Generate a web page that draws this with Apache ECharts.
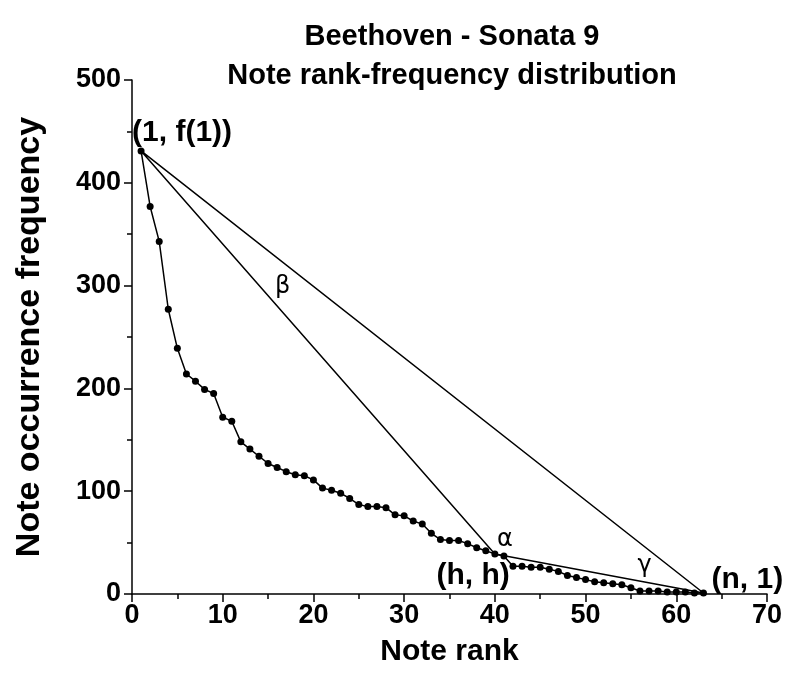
<!DOCTYPE html>
<html>
<head>
<meta charset="utf-8">
<script src="https://cdn.jsdelivr.net/npm/echarts@6/dist/echarts.min.js"></script>
<style>
  html, body { margin: 0; padding: 0; background: #fff; }
  #chart { width: 785px; height: 686px; }
</style>
</head>
<body>
<div id="chart"></div>
<script>
// Note ranks 1..n and how often each note occurs
const ranks = [
  1, 2, 3, 4, 5, 6, 7, 8, 9, 10,
  11, 12, 13, 14, 15, 16, 17, 18, 19, 20,
  21, 22, 23, 24, 25, 26, 27, 28, 29, 30,
  31, 32, 33, 34, 35, 36, 37, 38, 39, 40,
  41, 42, 43, 44, 45, 46, 47, 48, 49, 50,
  51, 52, 53, 54, 55, 56, 57, 58, 59, 60,
  61, 62, 63
];
const frequencies = [
  431, 377, 343, 277, 239, 214, 207, 199, 195, 172,
  168, 148, 141, 134, 127, 123, 119, 116, 115, 111,
  103, 101, 98, 93, 87, 85, 85, 84, 77, 76,
  71, 68, 59, 53, 52, 52, 49, 45, 42, 39,
  37, 27, 27, 26, 26, 24, 22, 18, 16, 14,
  12, 11, 10, 9, 6, 3, 3, 3, 2, 2,
  2, 1, 1
];

// Triangle vertices: (1, f(1)), (h, h), (n, 1)
const vertexNames = ['(1, f(1))', '(h, h)', '(n, 1)'];
const vertexX = [1, 40, 63];
const vertexY = [431, 39, 1];

// Angle names and where they sit (data units)
const angleNames = ['β', 'α', 'γ'];
const angleX = [16.6, 41.1, 56.5];
const angleY = [299, 52.5, 27.2];

const xTicks = { min: 0, max: 70, interval: 10 };
const yTicks = { min: 0, max: 500, interval: 100 };

const SANS = '"Liberation Sans", Arial, sans-serif';
const NARROW = '"Liberation Sans Narrow", "Arial Narrow", "Liberation Sans", sans-serif';

const curve = ranks.map((r, i) => [r, frequencies[i]]);
const triangle = [0, 1, 2, 0].map(i => [vertexX[i], vertexY[i]]);

// label placement for each vertex
const vertexLabelStyle = [
  { align: 'left', offset: [-9, -18] },
  { align: 'right', offset: [15, 22] },
  { align: 'left', offset: [8, -13] }
];

const vertexPoints = vertexNames.map((name, i) => ({
  value: [vertexX[i], vertexY[i]],
  label: {
    show: true,
    formatter: name,
    position: 'inside',
    align: vertexLabelStyle[i].align,
    verticalAlign: 'middle',
    offset: vertexLabelStyle[i].offset,
    fontSize: 30,
    fontWeight: 'bold',
    fontFamily: SANS,
    color: '#000',
    opacity: 1
  }
}));

const anglePoints = angleNames.map((name, i) => ({
  value: [angleX[i], angleY[i]],
  label: {
    show: true,
    formatter: name,
    position: 'inside',
    align: 'center',
    verticalAlign: 'middle',
    fontSize: 24,
    fontFamily: '"DejaVu Sans", sans-serif',
    color: '#000',
    opacity: 1
  }
}));

const axisCommon = {
  type: 'value',
  splitLine: { show: false },
  axisLine: { show: true, onZero: false, lineStyle: { color: '#000', width: 1.5 } },
  axisTick: { show: true, inside: false, length: 8, lineStyle: { color: '#000', width: 1.5 } },
  minorTick: { show: true, splitNumber: 2, length: 5, lineStyle: { color: '#000', width: 1.5 } },
  axisLabel: { color: '#000', fontSize: 27, fontWeight: 'bold', fontFamily: NARROW },
  nameLocation: 'middle',
  nameTextStyle: { color: '#000', fontWeight: 'bold', fontFamily: SANS }
};

const chart = echarts.init(document.getElementById('chart'), null, { renderer: 'canvas' });
chart.setOption({
  backgroundColor: '#fff',
  animation: false,
  title: {
    text: 'Beethoven - Sonata 9\nNote rank-frequency distribution',
    left: 447,
    top: 12,
    textAlign: 'center',
    textStyle: { color: '#000', fontSize: 29, fontWeight: 'bold', fontFamily: SANS, lineHeight: 39 }
  },
  grid: { left: 132, right: 16, top: 80, bottom: 92, containLabel: false },
  xAxis: Object.assign({}, axisCommon, {
    min: xTicks.min, max: xTicks.max, interval: xTicks.interval,
    name: 'Note rank', nameGap: 43,
    nameTextStyle: Object.assign({}, axisCommon.nameTextStyle, { fontSize: 30 }),
    axisLabel: Object.assign({}, axisCommon.axisLabel, { margin: 8 })
  }),
  yAxis: Object.assign({}, axisCommon, {
    min: yTicks.min, max: yTicks.max, interval: yTicks.interval,
    name: 'Note occurrence frequency', nameGap: 85,
    nameTextStyle: Object.assign({}, axisCommon.nameTextStyle, { fontSize: 34 }),
    axisLabel: Object.assign({}, axisCommon.axisLabel, { margin: 11 })
  }),
  series: [
    {
      name: 'triangle',
      type: 'line',
      data: triangle,
      showSymbol: false,
      symbol: 'none',
      lineStyle: { color: '#000', width: 1.5 },
      z: 2
    },
    {
      name: 'frequency',
      type: 'line',
      data: curve,
      symbol: 'circle',
      symbolSize: 7,
      itemStyle: { color: '#000' },
      lineStyle: { color: '#000', width: 1.5 },
      z: 3
    },
    {
      name: 'vertices',
      type: 'scatter',
      data: vertexPoints,
      symbolSize: 1,
      itemStyle: { color: '#000', opacity: 1 },
      z: 4
    },
    {
      name: 'angles',
      type: 'scatter',
      data: anglePoints,
      symbolSize: 0,
      itemStyle: { color: '#000', opacity: 1 },
      z: 4
    }
  ]
});
</script>
</body>
</html>
